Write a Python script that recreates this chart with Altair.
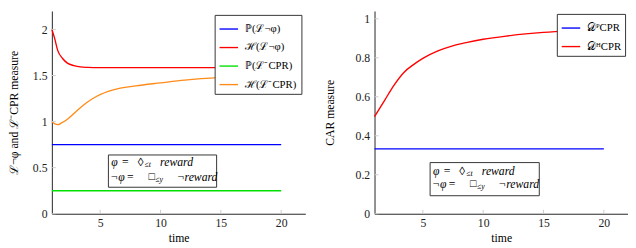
import altair as alt
import pandas as pd

SERIF = "Liberation Serif"

# ---------------- left panel data ----------------
left_names = ["ℙ(ℒ¬φ)", "ℋ(ℒ¬φ)", "ℙ(ℒ⁻CPR)", "ℋ(ℒ⁻CPR)"]
left_colors = ["#0000ff", "#ff0000", "#00e000", "#ff8c1a"]

t_const = [1, 20]
p_neg = [0.75, 0.75]
p_cpr = [0.25, 0.25]

t_h_neg = [1, 1.22, 1.49, 1.89, 2.29, 2.83, 3.37, 4.0, 4.72, 6, 8, 10, 15, 20]
h_neg = [2.0, 1.908, 1.77, 1.685, 1.634, 1.607, 1.593, 1.588, 1.585, 1.585, 1.585, 1.585, 1.585, 1.585]

t_h_cpr = [1, 1.25, 1.49, 1.8, 2.29, 3.1, 3.9, 4.72, 6.07, 7.95, 10, 12, 15, 17.5, 20]
h_cpr = [1.0, 0.975, 0.967, 0.985, 1.026, 1.121, 1.207, 1.275, 1.344, 1.388, 1.42, 1.45, 1.48, 1.495, 1.505]

# ---------------- right panel data ----------------
right_names = ["𝒟ᴾCPR", "𝒟ᴴCPR"]
right_colors = ["#0000ff", "#ff0000"]
d_p = [0.333, 0.333]
t_d_h = [1, 1.81, 2.62, 3.43, 4.23, 5.04, 6.25, 7.47, 8.68, 10, 12, 15, 17.5, 20]
d_h = [0.498, 0.579, 0.66, 0.725, 0.765, 0.798, 0.835, 0.861, 0.879, 0.895, 0.912, 0.93, 0.94, 0.948]

x_ticks = [5, 10, 15, 20]
left_y_ticks = [0, 0.5, 1, 1.5, 2]
right_y_ticks = [0, 0.2, 0.4, 0.6, 0.8, 1]


def frame(pairs):
    rows = []
    for name, ts, vs in pairs:
        for t, v in zip(ts, vs):
            rows.append({"t": t, "v": v, "series": name})
    return pd.DataFrame(rows)


left_df = frame([
    (left_names[0], t_const, p_neg),
    (left_names[1], t_h_neg, h_neg),
    (left_names[2], t_const, p_cpr),
    (left_names[3], t_h_cpr, h_cpr),
])
right_df = frame([
    (right_names[0], t_const, d_p),
    (right_names[1], t_d_h, d_h),
])

W, H = 260, 208
XDOM = [1, 22]


def legend(offset):
    return alt.Legend(
        title=None, orient="top-right", offset=offset,
        symbolType="stroke", symbolSize=361, symbolStrokeWidth=1.4,
        strokeColor="#333", fillColor="white", padding=4, cornerRadius=0,
        labelFont=SERIF, labelFontSize=11, labelColor="black", labelOffset=6,
        rowPadding=3, labelLimit=0,
    )


AX = dict(labelFont=SERIF, labelFontSize=12, labelColor="#222", titleFont=SERIF,
          titleFontSize=12, titleFontWeight="normal", titleColor="black",
          grid=False, ticks=False, domainColor="#222", domainWidth=1)


def panel(df, names, colors, ydom, yticks, ytitle, title_x, leg_offset, box, lines):
    x_axis = alt.Axis(values=x_ticks, title="time", format="~g", labelPadding=4,
                      titlePadding=4, **AX)
    y_axis = alt.Axis(values=yticks, title=ytitle, format="~g", titleX=title_x,
                      titleBaseline="middle", labelPadding=5, **AX)
    xs = alt.Scale(domain=XDOM, nice=False, zero=False)
    ys = alt.Scale(domain=ydom, nice=False)
    lines_layer = alt.Chart(df).mark_line(strokeWidth=1.4, interpolate="monotone").encode(
        x=alt.X("t:Q", scale=xs, axis=x_axis),
        y=alt.Y("v:Q", scale=ys, axis=y_axis),
        color=alt.Color("series:N", scale=alt.Scale(domain=names, range=colors),
                        sort=names, legend=legend(leg_offset)),
    )
    xt = alt.Chart(pd.DataFrame({"t": x_ticks})).mark_rule(color="#cccccc", strokeWidth=1).encode(
        x=alt.X("t:Q", scale=xs, axis=x_axis), y=alt.value(H - 4), y2=alt.value(H))
    yt = alt.Chart(pd.DataFrame({"v": yticks})).mark_rule(color="#cccccc", strokeWidth=1).encode(
        y=alt.Y("v:Q", scale=ys, axis=y_axis), x=alt.value(0), x2=alt.value(4))
    one = pd.DataFrame({"a": [0]})
    x0, x1, y0, y1 = box
    rect = alt.Chart(one).mark_rect(fill="white", stroke="#333", strokeWidth=1).encode(
        x=alt.value(x0), x2=alt.value(x1), y=alt.value(y0), y2=alt.value(y1))
    texts = []
    for s, x, y, size, style in lines:
        texts.append(alt.Chart(one).mark_text(
            text=s, align="left", baseline="middle", fontSize=size,
            fontStyle=style, font=SERIF, color="black").encode(
            x=alt.value(x), y=alt.value(y)))
    return alt.layer(lines_layer, yt, xt, rect, *texts).properties(width=W, height=H)


def annot(dx, dy1, dy2):
    L1, L2 = dy1, dy2
    return [
        ("φ", 61 + dx, L1, 12, "italic"),
        ("=", 72 + dx, L1, 12, "normal"),
        ("◊", 88 + dx, L1, 12, "normal"),
        ("≤t", 95 + dx, L1 + 3, 8, "italic"),
        ("reward", 111 + dx, L1, 12, "italic"),
        ("¬φ", 60 + dx, L2, 12, "italic"),
        ("=", 77 + dx, L2, 12, "normal"),
        ("□", 99 + dx, L2, 11, "normal"),
        ("≤y", 106 + dx, L2 + 3, 8, "italic"),
        ("¬reward", 128 + dx, L2, 12, "italic"),
    ]


left = panel(left_df, left_names, left_colors, [0, 2.2], left_y_ticks,
             "ℒ¬φ and ℒ⁻CPR measure", -39, 4,
             (58, 169, 147.7, 180.8), annot(0, 155.5, 170.1))
right = panel(right_df, right_names, right_colors, [0, 1.04], right_y_ticks,
              "CAR measure", -46, 3,
              (57, 169, 155.5, 189.5), annot(-1, 164.3, 178))

chart = alt.hconcat(left, right, spacing=19).resolve_scale(color="independent").properties(
    padding=0
).configure(font=SERIF).configure_view(stroke=None)

chart.save("out.html", embed_options={"renderer": "svg", "actions": False})
